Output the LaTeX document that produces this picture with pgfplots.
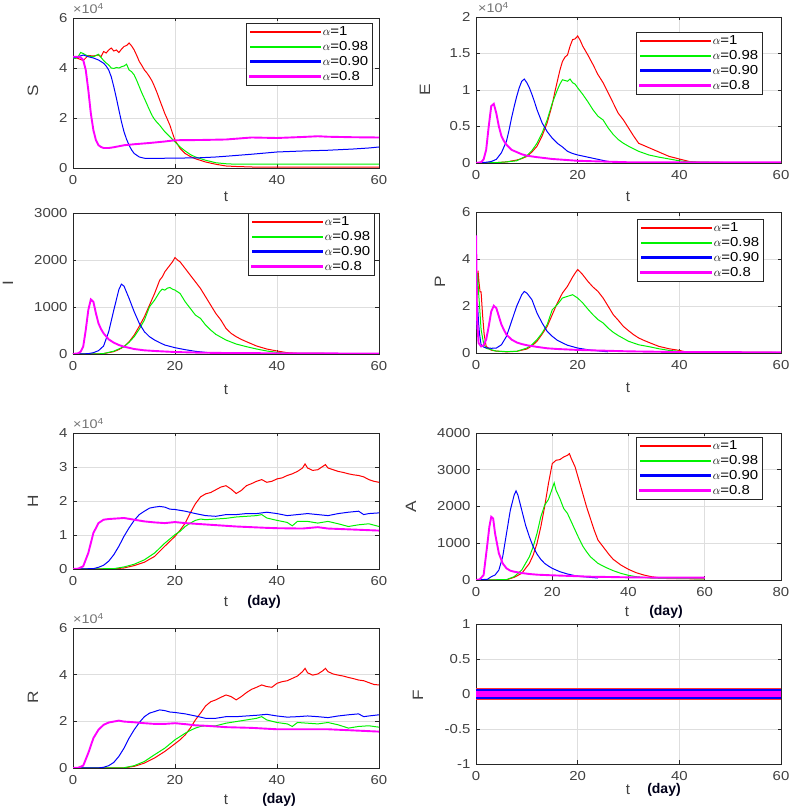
\documentclass[border=0pt]{standalone}
\usepackage{pgfplots}
\pgfplotsset{compat=1.18}
\usepackage{fontspec}
\setmainfont{Liberation Sans}
\newfontfamily\widefont{Liberation Sans}[FakeStretch=1.15]
\definecolor{myred}{rgb}{1,0,0}
\definecolor{mygreen}{rgb}{0,0.95,0}
\definecolor{myblue}{rgb}{0,0,1}
\definecolor{mymag}{rgb}{1,0,1}
\definecolor{tickgray}{gray}{0.25}
\pgfplotsset{
  panel/.style={scale only axis, anchor=south west,
    axis line style={black!85, line width=0.7pt},
    every tick/.style={black!85, line width=0.6pt},
    major tick length=3.5pt,
    grid=major, grid style={black!13, line width=0.6pt},
    tick label style={font=\widefont\fontsize{13}{14}\selectfont, text=tickgray},
    xticklabel style={yshift=-4pt},
    yticklabel style={xshift=-2pt},
    /pgf/number format/assume math mode=true,
    /pgf/number format/1000 sep={},
    scaled ticks=false,
    xmin=0, xmax=60, xtick={0,20,40,60},
    legend cell align=left,
    legend image code/.code={\fill[##1] (-8pt,-0.75pt) rectangle (62pt,0.75pt);\draw[##1] (-8pt,0pt) -- (62pt,0pt);},
    legend style={at={(1,1)}, anchor=north east, draw=black!85, line width=0.7pt,
      font=\widefont\fontsize{13}{15}\selectfont, inner xsep=3pt, inner ysep=2pt,
      row sep=1.2pt, nodes={inner sep=1.5pt}},
  },
  sR/.style={color=myred, line width=1pt},
  sG/.style={color=mygreen, line width=1pt},
  sB/.style={color=myblue, line width=1pt},
  sM/.style={color=mymag, line width=1.9pt},
}
\newcommand\legendentries{\legend{$\alpha$=1,$\alpha$=0.98,$\alpha$=0.90,$\alpha$=0.8}}
\begin{document}
\begin{tikzpicture}[x=1pt,y=1pt]
\useasboundingbox (0pt,0pt) rectangle (791pt,809pt);

% ---------------- S ----------------
\begin{axis}[panel, at={(73pt,641pt)}, width=306pt, height=150pt,
  ymin=0, ymax=6, ytick={0,2,4,6},
  legend style={xshift=-6pt, yshift=-5pt}]
\addplot[sR] coordinates {(0,4.45)(1,4.38)(2,4.3)(2.5,4.4)(3,4.5)(4,4.48)(5,4.52)(5.5,4.45)(6,4.66)(6.5,4.6)(7,4.72)(7.5,4.8)(8,4.68)(8.5,4.72)(9,4.62)(9.5,4.75)(10,4.86)(10.5,4.9)(11,5.0)(11.5,4.88)(12,4.72)(12.5,4.5)(13,4.26)(13.5,4.1)(14,3.92)(14.5,3.8)(15,3.65)(15.5,3.48)(16,3.25)(16.5,3.0)(17,2.72)(17.5,2.45)(18,2.18)(18.5,1.95)(19,1.71)(19.5,1.4)(20,1.11)(21,0.78)(22,0.58)(23,0.46)(24,0.37)(26,0.24)(28,0.15)(30,0.08)(32,0.06)(35,0.04)(40,0.03)(50,0.03)(60,0.03)};
\addplot[sG] coordinates {(0,4.4)(0.5,4.38)(1,4.45)(1.5,4.62)(2,4.58)(2.5,4.52)(3,4.48)(4,4.45)(4.5,4.5)(5,4.55)(5.5,4.42)(6,4.3)(6.5,4.2)(7,4.12)(7.5,4.0)(8,3.98)(8.5,4.02)(9,4.0)(9.5,4.05)(10,4.08)(10.5,4.15)(11,3.92)(11.5,3.85)(12,3.72)(12.5,3.5)(13,3.25)(13.5,3.0)(14,2.78)(14.5,2.55)(15,2.32)(15.5,2.1)(16,1.94)(16.5,1.82)(17,1.71)(18,1.45)(19,1.25)(20,1.04)(21,0.84)(22,0.68)(23,0.54)(24,0.44)(26,0.31)(28,0.21)(30,0.17)(32,0.15)(40,0.15)(50,0.15)(60,0.15)};
\addplot[sB] coordinates {(0,4.4)(1,4.45)(2,4.52)(3,4.45)(4,4.4)(5,4.32)(6,4.19)(6.5,4.08)(7,3.92)(7.5,3.65)(8,3.25)(8.5,2.8)(9,2.32)(9.5,1.85)(10,1.45)(10.5,1.15)(11,0.91)(11.5,0.72)(12,0.58)(13,0.44)(14,0.39)(16,0.38)(18,0.39)(20,0.39)(22,0.4)(25,0.41)(28,0.44)(30,0.47)(35,0.55)(40,0.64)(45,0.68)(50,0.71)(55,0.76)(58,0.8)(60,0.84)};
\addplot[sM] coordinates {(0,4.45)(1,4.45)(1.5,4.42)(2,4.32)(2.5,3.92)(3,3.12)(3.5,2.18)(4,1.51)(4.5,1.11)(5,0.91)(5.5,0.84)(6,0.80)(7,0.80)(8,0.83)(10,0.91)(12,0.95)(15,1.0)(18,1.06)(20,1.11)(25,1.12)(30,1.14)(35,1.22)(40,1.2)(45,1.24)(48,1.27)(50,1.25)(55,1.23)(60,1.22)};
\legendentries
\end{axis}

% ---------------- E ----------------
\begin{axis}[panel, at={(476pt,646pt)}, width=305pt, height=146pt,
  ymin=0, ymax=2, ytick={0,0.5,1,1.5,2},
  legend style={xshift=-18pt, yshift=-15pt}]
\addplot[sR] coordinates {(0,0)(4,0.005)(6,0.015)(8,0.04)(9,0.06)(10,0.09)(11,0.15)(12,0.23)(13,0.37)(14,0.55)(15,0.80)(15.5,0.97)(16,1.12)(16.5,1.27)(17,1.39)(17.5,1.45)(18,1.48)(18.5,1.6)(19,1.69)(19.5,1.70)(20,1.74)(20.5,1.68)(21,1.60)(22,1.48)(23,1.35)(24,1.21)(25,1.10)(26,0.96)(27,0.82)(28,0.68)(29,0.59)(30,0.48)(31,0.37)(32,0.27)(33,0.24)(34,0.21)(36,0.15)(38,0.09)(40,0.055)(42,0.02)(44,0.01)(50,0.005)(60,0.005)};
\addplot[sG] coordinates {(0,0)(4,0.005)(6,0.015)(8,0.03)(10,0.10)(11,0.17)(12,0.27)(13,0.41)(14,0.59)(15,0.82)(16,1.0)(16.5,1.08)(17,1.14)(17.5,1.13)(18,1.12)(18.5,1.15)(19,1.10)(19.5,1.08)(20,1.03)(21,0.94)(22,0.84)(23,0.73)(24,0.64)(25,0.59)(26,0.48)(27,0.39)(28,0.32)(29,0.27)(30,0.23)(32,0.16)(34,0.11)(36,0.08)(38,0.055)(40,0.03)(42,0.015)(50,0.005)(60,0.005)};
\addplot[sB] coordinates {(0,0)(2,0.01)(3,0.02)(4,0.05)(5,0.14)(6,0.30)(6.5,0.45)(7,0.62)(7.5,0.77)(8,0.91)(8.5,1.03)(9,1.12)(9.5,1.15)(10,1.10)(10.5,1.03)(11,0.94)(11.5,0.84)(12,0.73)(12.5,0.64)(13,0.55)(14,0.43)(15,0.34)(16,0.27)(17,0.22)(18,0.16)(19,0.13)(20,0.11)(22,0.08)(24,0.05)(26,0.02)(26.5,0.02)};
\addplot[sM] coordinates {(0,0)(1,0.01)(1.5,0.05)(2,0.18)(2.5,0.50)(3,0.78)(3.5,0.81)(4,0.68)(4.5,0.50)(5,0.37)(5.5,0.30)(6,0.25)(7,0.18)(8,0.15)(9,0.12)(10,0.10)(12,0.08)(15,0.055)(20,0.03)(25,0.02)(30,0.01)(40,0.01)(50,0.01)(60,0.01)};
\legendentries
\end{axis}

% ---------------- I ----------------
\begin{axis}[panel, at={(73pt,455pt)}, width=306pt, height=141pt,
  ymin=0, ymax=3000, ytick={0,1000,2000,3000},
  legend style={xshift=-4pt, yshift=0pt}]
\addplot[sR] coordinates {(0,0)(5,2)(6,8)(8,50)(9,95)(10,156)(11,260)(12,403)(13,590)(14,793)(15,1040)(16,1288)(17,1571)(17.5,1640)(18,1748)(19,1890)(19.5,1960)(20,2052)(20.5,2000)(21,1960)(22,1819)(23,1677)(24,1536)(25,1394)(26,1217)(27,1040)(28,863)(29,722)(30,545)(31,439)(32,368)(33,310)(34,262)(36,170)(38,106)(40,64)(42,28)(44,15)(50,10)(60,10)};
\addplot[sG] coordinates {(0,0)(5,3)(6,10)(8,60)(10,156)(11,250)(12,368)(13,530)(14,722)(15,1005)(16,1146)(17,1323)(17.5,1380)(18,1359)(18.5,1400)(19,1415)(19.5,1380)(20,1359)(21,1288)(22,1111)(23,970)(24,828)(25,757)(26,616)(27,510)(28,418)(30,297)(32,212)(34,156)(36,106)(38,64)(40,35)(42,15)(50,10)(60,10)};
\addplot[sB] coordinates {(0,0)(2,2)(3,8)(4,28)(5,71)(6,170)(7,474)(8,934)(9,1373)(9.5,1486)(10,1444)(11,1182)(12,899)(13,651)(14,474)(15,368)(16,297)(17,241)(18,191)(20,134)(22,92)(24,57)(26,35)(26.5,30)};
\addplot[sM] coordinates {(0,0)(1,14)(1.5,50)(2,156)(2.5,510)(3,934)(3.5,1161)(4,1111)(4.5,863)(5,651)(5.5,530)(6,439)(7,311)(8,241)(9,191)(10,156)(12,106)(14,78)(16,64)(20,42)(25,28)(30,21)(40,15)(50,12)(60,10)};
\legendentries
\end{axis}

% ---------------- P ----------------
\begin{axis}[panel, at={(476pt,456pt)}, width=305pt, height=141pt,
  ymin=0, ymax=6, ytick={0,2,4,6},
  legend style={xshift=-17pt, yshift=-7pt}]
\addplot[sR] coordinates {(0,1.0)(0.2,2.5)(0.4,3.5)(0.6,3.0)(0.8,2.6)(1,2.6)(1.3,1.6)(1.6,0.8)(2,0.28)(3,0.12)(4,0.08)(6,0.05)(8,0.07)(10,0.17)(11,0.3)(12,0.5)(13,0.8)(14,1.13)(15,1.63)(16,2.13)(17,2.55)(18,2.84)(19,3.23)(19.5,3.4)(20,3.55)(20.5,3.45)(21,3.33)(22,3.05)(23,2.81)(24,2.62)(25,2.34)(26,1.99)(27,1.63)(28,1.39)(29,1.13)(30,0.95)(31,0.78)(32,0.64)(33,0.54)(34,0.45)(36,0.28)(38,0.18)(40,0.11)(41,0.06)(44,0.03)(60,0.02)};
\addplot[sG] coordinates {(0,1.5)(0.15,2.8)(0.3,3.4)(0.5,2.6)(0.7,2.0)(1,1.0)(1.5,0.4)(2,0.2)(4,0.08)(6,0.06)(8,0.07)(10,0.21)(11,0.35)(12,0.57)(13,0.85)(14,1.21)(15,1.84)(16,2.06)(17,2.34)(18,2.41)(19,2.48)(20,2.34)(21,2.13)(22,1.87)(23,1.63)(24,1.42)(25,1.28)(26,1.06)(27,0.88)(28,0.74)(29,0.62)(30,0.50)(32,0.35)(34,0.27)(36,0.18)(38,0.11)(40,0.07)(42,0.04)(60,0.02)};
\addplot[sB] coordinates {(0,1.0)(0.15,1.8)(0.3,2.1)(0.5,1.3)(0.7,0.8)(1,0.35)(1.5,0.25)(2,0.22)(3,0.2)(4,0.21)(5,0.35)(6,0.71)(7,1.35)(8,1.99)(9,2.48)(9.5,2.62)(10,2.55)(11,2.27)(12,1.70)(13,1.28)(14,0.92)(15,0.71)(16,0.54)(17,0.43)(18,0.33)(20,0.21)(22,0.14)(24,0.09)(26,0.05)};
\addplot[sM] coordinates {(0,1.4)(0.03,5.0)(0.1,3.0)(0.2,1.5)(0.5,0.43)(1,0.28)(1.5,0.33)(2,0.57)(2.5,1.13)(3,1.77)(3.5,2.01)(4,1.91)(4.5,1.56)(5,1.21)(5.5,0.98)(6,0.78)(7,0.57)(8,0.45)(9,0.38)(10,0.33)(12,0.26)(14,0.20)(16,0.17)(20,0.13)(25,0.10)(30,0.07)(40,0.04)(60,0.03)};
\legendentries
\end{axis}

% ---------------- H ----------------
\begin{axis}[panel, at={(73pt,240pt)}, width=306pt, height=136pt,
  ymin=0, ymax=4, ytick={0,1,2,3,4}]
\addplot[sR] coordinates {(0,0)(8,0.005)(10,0.03)(12,0.10)(14,0.20)(16,0.37)(18,0.67)(20,0.96)(21,1.14)(22,1.35)(23,1.65)(24,1.92)(25,2.12)(26,2.21)(27,2.25)(28,2.33)(29,2.41)(30,2.45)(30.5,2.40)(31,2.35)(32,2.22)(33,2.31)(34,2.45)(35,2.51)(36,2.58)(37,2.63)(38,2.55)(39,2.58)(40,2.65)(41,2.68)(42,2.75)(43,2.80)(44,2.87)(45,2.97)(45.5,3.09)(46,2.97)(47,2.90)(48,2.92)(49,3.02)(49.5,3.07)(50,2.97)(51,2.92)(52,2.87)(53,2.84)(54,2.80)(55,2.77)(56,2.75)(57,2.71)(58,2.63)(59,2.58)(60,2.55)};
\addplot[sG] coordinates {(0,0)(8,0.01)(10,0.06)(12,0.14)(14,0.27)(16,0.47)(18,0.76)(20,1.01)(21,1.11)(22,1.25)(23,1.35)(24,1.43)(25,1.47)(26,1.45)(28,1.47)(30,1.49)(32,1.53)(34,1.55)(36,1.57)(37,1.60)(38,1.50)(40,1.43)(42,1.37)(43,1.27)(44,1.40)(46,1.40)(48,1.35)(50,1.40)(52,1.33)(54,1.25)(56,1.30)(58,1.33)(60,1.25)};
\addplot[sB] coordinates {(0,0)(4,0.01)(5,0.05)(6,0.11)(7,0.23)(8,0.42)(9,0.67)(10,0.96)(11,1.21)(12,1.43)(13,1.60)(14,1.70)(15,1.79)(16,1.82)(17,1.84)(18,1.82)(19,1.76)(20,1.75)(22,1.70)(24,1.63)(26,1.57)(28,1.55)(30,1.60)(32,1.60)(34,1.63)(36,1.63)(38,1.67)(40,1.63)(42,1.57)(44,1.60)(46,1.63)(48,1.60)(50,1.57)(52,1.63)(54,1.67)(56,1.70)(57,1.60)(58,1.63)(60,1.65)};
\addplot[sM] coordinates {(0,0)(1,0.01)(2,0.08)(3,0.47)(4,1.06)(5,1.35)(6,1.45)(7,1.47)(8,1.48)(10,1.50)(12,1.45)(14,1.40)(16,1.37)(18,1.35)(20,1.38)(22,1.35)(24,1.33)(26,1.31)(28,1.29)(30,1.27)(32,1.25)(35,1.23)(38,1.21)(40,1.20)(45,1.19)(48,1.23)(50,1.19)(55,1.16)(60,1.13)};
\end{axis}

% ---------------- A ----------------
\begin{axis}[panel, at={(476pt,229pt)}, width=305pt, height=147pt,
  xmax=80, xtick={0,20,40,60,80},
  ymin=0, ymax=4000, ytick={0,1000,2000,3000,4000},
  legend style={xshift=-18pt, yshift=-4pt}]
\addplot[sR] coordinates {(0,0)(8,5)(10,72)(12,181)(14,452)(15,679)(16,995)(17,1448)(18,1991)(19,2624)(20,3167)(21,3258)(22,3276)(23,3348)(24,3394)(24.5,3439)(25,3303)(26,3077)(27,2715)(28,2353)(29,1991)(30,1674)(31,1357)(32,1086)(33,950)(34,814)(35,679)(36,561)(38,407)(40,290)(42,199)(44,136)(46,90)(48,63)(50,40)(60,30)};
\addplot[sG] coordinates {(0,0)(8,10)(10,90)(12,271)(14,633)(15,905)(16,1267)(17,1719)(18,2036)(19,2190)(20,2489)(20.5,2643)(21,2443)(22,2217)(23,1946)(24,1810)(25,1584)(26,1357)(27,1131)(28,923)(29,769)(30,633)(32,452)(34,344)(36,253)(38,181)(40,127)(42,90)(44,72)(46,50)(60,30)};
\addplot[sB] coordinates {(0,0)(3,20)(4,90)(5,136)(6,271)(7,633)(8,1267)(9,1900)(10,2308)(10.5,2425)(11,2308)(12,1900)(13,1493)(14,1176)(15,905)(16,706)(17,561)(18,452)(19,380)(20,317)(22,226)(24,163)(26,118)(28,90)(30,72)(32,54)};
\addplot[sM] coordinates {(0,0)(1,18)(2,136)(3,995)(3.5,1448)(4,1719)(4.5,1674)(5,1267)(6,724)(7,452)(8,317)(9,253)(10,226)(12,190)(14,163)(16,145)(18,136)(20,127)(25,109)(30,90)(40,72)(50,63)(60,63)};
\legendentries
\end{axis}

% ---------------- R ----------------
\begin{axis}[panel, at={(73pt,41pt)}, width=306pt, height=140pt,
  ymin=0, ymax=6, ytick={0,2,4,6}]
\addplot[sR] coordinates {(0,0)(10,0.005)(12,0.07)(14,0.21)(16,0.43)(18,0.71)(20,1.04)(21,1.21)(22,1.42)(23,1.71)(24,2.06)(25,2.35)(26,2.66)(27,2.84)(28,2.92)(29,3.03)(30,3.13)(31,3.06)(32,2.92)(33,3.06)(34,3.23)(35,3.37)(36,3.46)(37,3.56)(38,3.49)(39,3.46)(40,3.63)(41,3.70)(42,3.74)(43,3.84)(44,3.94)(45,4.13)(45.5,4.27)(46,4.08)(47,3.98)(48,4.03)(49,4.17)(49.5,4.27)(50,4.13)(51,4.03)(52,3.98)(53,3.94)(54,3.88)(55,3.83)(56,3.77)(57,3.74)(58,3.66)(59,3.58)(60,3.56)};
\addplot[sG] coordinates {(0,0)(10,0.01)(12,0.10)(14,0.28)(16,0.57)(18,0.85)(20,1.21)(22,1.49)(23,1.61)(24,1.71)(25,1.78)(26,1.81)(28,1.81)(30,1.92)(32,1.99)(34,2.06)(36,2.13)(37,2.20)(38,2.06)(40,1.95)(42,1.89)(43,1.78)(44,1.95)(46,1.92)(48,1.89)(50,1.95)(52,1.85)(54,1.71)(56,1.78)(58,1.81)(60,1.75)};
\addplot[sB] coordinates {(0,0)(5,0.005)(6,0.03)(7,0.10)(8,0.24)(9,0.50)(10,0.85)(11,1.28)(12,1.64)(13,1.95)(14,2.20)(15,2.35)(16,2.42)(17,2.49)(18,2.46)(19,2.40)(20,2.38)(22,2.32)(24,2.23)(26,2.13)(28,2.13)(30,2.20)(32,2.20)(34,2.23)(36,2.26)(38,2.30)(40,2.23)(42,2.18)(44,2.20)(46,2.23)(48,2.20)(50,2.16)(52,2.23)(54,2.28)(56,2.32)(57,2.20)(58,2.23)(60,2.28)};
\addplot[sM] coordinates {(0,0)(1,0.01)(2,0.10)(3,0.64)(4,1.28)(5,1.64)(6,1.85)(7,1.95)(8,1.99)(9,2.03)(10,1.99)(12,1.96)(14,1.92)(16,1.89)(18,1.89)(20,1.92)(22,1.88)(24,1.83)(26,1.81)(28,1.78)(30,1.75)(35,1.72)(40,1.66)(45,1.66)(50,1.66)(55,1.61)(60,1.56)};
\end{axis}

% ---------------- F ----------------
\begin{axis}[panel, at={(476pt,45pt)}, width=305pt, height=140pt,
  ymin=-1, ymax=1, ytick={-1,-0.5,0,0.5,1}]
\addplot[color=myred!80, line width=12.3pt] coordinates {(0,0)(60,0)};
\addplot[color=mygreen, line width=10.5pt] coordinates {(0,0)(60,0)};
\addplot[color=myblue, line width=10.5pt] coordinates {(0,0)(60,0)};
\addplot[color=mymag, line width=6.8pt] coordinates {(0,0)(60,0)};
\end{axis}

% ---------------- labels ----------------
\tikzset{ylab/.style={font=\widefont\fontsize{15}{16}\selectfont, text=tickgray, rotate=90},
         xlab/.style={font=\fontsize{15}{16}\selectfont, text=tickgray},
         daylab/.style={font=\bfseries\fontsize{14}{16}\selectfont, text=black!90!blue},
         expo/.style={font=\widefont\fontsize{12.5}{14}\selectfont, text=black!55, anchor=base west, inner sep=0pt}}
\node[ylab] at (33pt,718pt) {S};
\node[ylab] at (425pt,719pt) {E};
\node[ylab] at (8pt,526pt) {I};
\node[ylab] at (440pt,527pt) {P};
\node[ylab] at (33pt,308pt) {H};
\node[ylab] at (411pt,302pt) {A};
\node[ylab] at (33pt,112pt) {R};
\node[ylab] at (418pt,114pt) {F};
\node[xlab] at (226pt,612pt) {t};
\node[xlab] at (628pt,612pt) {t};
\node[xlab] at (226pt,419pt) {t};
\node[xlab] at (628pt,421pt) {t};
\node[xlab] at (226pt,207pt) {t};
\node[daylab] at (264pt,207pt) {(day)};
\node[xlab] at (627pt,197pt) {t};
\node[daylab] at (666pt,197pt) {(day)};
\node[xlab] at (226pt,9pt) {t};
\node[daylab] at (279pt,9pt) {(day)};
\node[xlab] at (628pt,19pt) {t};
\node[daylab] at (664pt,19pt) {(day)};
\node[expo] at (73pt,795pt) {×10\textsuperscript{4}};
\node[expo] at (478pt,796pt) {×10\textsuperscript{4}};
\node[expo] at (73pt,380pt) {×10\textsuperscript{4}};
\node[expo] at (73pt,185pt) {×10\textsuperscript{4}};
\end{tikzpicture}
\end{document}
